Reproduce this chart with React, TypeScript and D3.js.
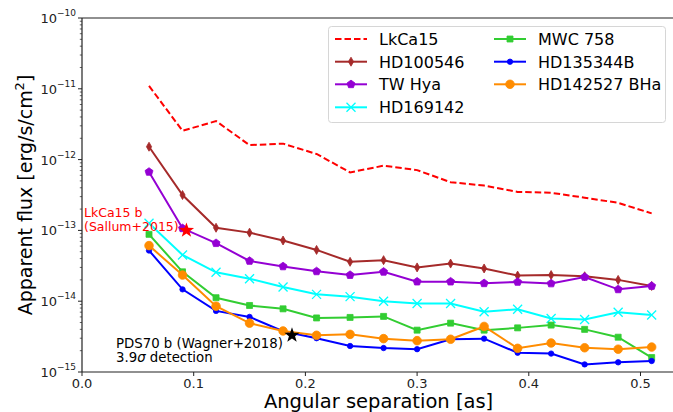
import * as d3 from "d3";
import { useEffect, useRef } from "react";

// angular separations [as] shared by every curve
const separations = [0.06, 0.09, 0.12, 0.15, 0.18, 0.21, 0.24, 0.27, 0.3, 0.33, 0.36, 0.39, 0.42, 0.45, 0.48, 0.51];

// apparent flux limits [erg/s/cm^2]
const lkca15 = [1.1e-11, 2.55e-12, 3.5e-12, 1.6e-12, 1.68e-12, 1.2e-12, 6.6e-13, 8.2e-13, 7.1e-13, 4.8e-13, 4.3e-13, 3.5e-13, 3.4e-13, 2.9e-13, 2.45e-13, 1.74e-13];
const hd100546 = [1.52e-12, 3.16e-13, 1.09e-13, 9.3e-14, 7.2e-14, 5.3e-14, 3.6e-14, 3.8e-14, 3.0e-14, 3.4e-14, 2.9e-14, 2.3e-14, 2.34e-14, 2.25e-14, 2.0e-14, 1.64e-14];
const twHya = [6.7e-13, 1.07e-13, 6.6e-14, 3.7e-14, 3.1e-14, 2.64e-14, 2.34e-14, 2.6e-14, 1.89e-14, 1.89e-14, 1.79e-14, 1.87e-14, 1.78e-14, 2.2e-14, 1.47e-14, 1.64e-14];
const hd169142 = [1.26e-13, 4.5e-14, 2.56e-14, 2.08e-14, 1.59e-14, 1.25e-14, 1.16e-14, 1.0e-14, 9.3e-15, 9.3e-15, 7.1e-15, 7.7e-15, 5.7e-15, 5.5e-15, 7.0e-15, 6.4e-15];
const mwc758 = [8.8e-14, 2.6e-14, 1.12e-14, 8.7e-15, 7.8e-15, 5.8e-15, 5.9e-15, 6.1e-15, 3.9e-15, 4.9e-15, 3.9e-15, 4.2e-15, 4.6e-15, 4.0e-15, 3.1e-15, 1.6e-15];
const hd135344b = [5.2e-14, 1.47e-14, 7.3e-15, 6.0e-15, 3.76e-15, 3.0e-15, 2.33e-15, 2.18e-15, 2.1e-15, 2.9e-15, 2.96e-15, 1.87e-15, 1.82e-15, 1.28e-15, 1.37e-15, 1.43e-15];
const hd142527 = [6.1e-14, 2.34e-14, 8.5e-15, 4.9e-15, 3.8e-15, 3.3e-15, 3.4e-15, 2.96e-15, 2.77e-15, 2.9e-15, 4.4e-15, 2.16e-15, 2.57e-15, 2.2e-15, 2.1e-15, 2.25e-15];

// detected companions
const lkca15b = { sep: 0.0935, flux: 1.0e-13 };
const pds70b = { sep: 0.188, flux: 3.3e-15 };

const xTicks = [0, 0.1, 0.2, 0.3, 0.4, 0.5];
const yExponents = [-10, -11, -12, -13, -14, -15];

type Marker = "none" | "thin_diamond" | "pentagon" | "x" | "square" | "dot" | "circle";

interface Series {
	name: string;
	values: number[];
	color: string;
	marker: Marker;
	dashed?: boolean;
}

const series: Series[] = [
	{ name: "LkCa15", values: lkca15, color: "#ff0000", marker: "none", dashed: true },
	{ name: "HD100546", values: hd100546, color: "#a52a2a", marker: "thin_diamond" },
	{ name: "TW Hya", values: twHya, color: "#9400d3", marker: "pentagon" },
	{ name: "HD169142", values: hd169142, color: "#00ffff", marker: "x" },
	{ name: "MWC 758", values: mwc758, color: "#32cd32", marker: "square" },
	{ name: "HD135344B", values: hd135344b, color: "#0000ff", marker: "dot" },
	{ name: "HD142527 BHa", values: hd142527, color: "#ff8c00", marker: "circle" },
];

const width = 673;
const height = 412;
const margin = { top: 18, right: -1, bottom: 40, left: 82 };
const font = "DejaVu Sans, sans-serif";

//returns a path string of a marker centred on 0,0
const markerPath = (m: Marker): string => {
	switch (m) {
		case "thin_diamond":
			return "M0,-4.5L2.6,0L0,4.5L-2.6,0Z";
		case "pentagon": {
			const pts = d3.range(5).map((i) => {
				const a = -Math.PI / 2 + (i * 2 * Math.PI) / 5;
				return [4.2 * Math.cos(a), 4.2 * Math.sin(a)];
			});
			return "M" + pts.map((p) => p.join(",")).join("L") + "Z";
		}
		case "x":
			return "M-4.5,-4.5L4.5,4.5M-4.5,4.5L4.5,-4.5";
		case "square":
			return "M-3,-3H3V3H-3Z";
		case "dot":
			return d3.symbol(d3.symbolCircle, Math.PI * 2.7 * 2.7)() || "";
		case "circle":
			return d3.symbol(d3.symbolCircle, Math.PI * 4.3 * 4.3)() || "";
		default:
			return "";
	}
};

const starPath = (r: number) => {
	const pts = d3.range(10).map((i) => {
		const a = -Math.PI / 2 + (i * Math.PI) / 5;
		const rr = i % 2 === 0 ? r : r * 0.4;
		return [rr * Math.cos(a), rr * Math.sin(a)];
	});
	return "M" + pts.map((p) => p.join(",")).join("L") + "Z";
};

const drawMarker = (
	g: d3.Selection<SVGGElement, unknown, null, undefined>,
	m: Marker,
	color: string,
	x: number,
	y: number
) => {
	if (m === "none") return;
	const p = g.append("path").attr("d", markerPath(m)).attr("transform", `translate(${x},${y})`);
	if (m === "x") {
		p.attr("fill", "none").attr("stroke", color).attr("stroke-width", 1.3);
	} else {
		p.attr("fill", color).attr("stroke", color).attr("stroke-width", 0.8);
	}
};

const App = () => {
	const svgRef = useRef<SVGSVGElement | null>(null);

	useEffect(() => {
		const svg = d3.select(svgRef.current);
		svg.selectAll("*").remove();

		const chartWidth = width - margin.left - margin.right;
		const chartHeight = height - margin.top - margin.bottom;

		const xScale = d3.scaleLinear().domain([0, 0.53]).range([margin.left, margin.left + chartWidth]);
		const yScale = d3.scaleLog().domain([1e-15, 1e-10]).range([margin.top + chartHeight, margin.top]);

		svg.append("rect").attr("width", width).attr("height", height).attr("fill", "white");

		// clip area for the data
		svg.append("clipPath")
			.attr("id", "plot-clip")
			.append("rect")
			.attr("x", margin.left)
			.attr("y", margin.top)
			.attr("width", chartWidth)
			.attr("height", chartHeight);

		const plot = svg.append("g").attr("clip-path", "url(#plot-clip)");

		const line = d3
			.line<number>()
			.x((_, i) => xScale(separations[i]))
			.y((d) => yScale(d));

		series.forEach((s) => {
			plot.append("path")
				.attr("d", line(s.values))
				.attr("fill", "none")
				.attr("stroke", s.color)
				.attr("stroke-width", 2)
				.attr("stroke-dasharray", s.dashed ? "6.5,3" : null);
			const mg = plot.append("g");
			s.values.forEach((v, i) => drawMarker(mg, s.marker, s.color, xScale(separations[i]), yScale(v)));
		});

		// companion stars
		plot.append("path")
			.attr("d", starPath(8))
			.attr("transform", `translate(${xScale(lkca15b.sep)},${yScale(lkca15b.flux)})`)
			.attr("fill", "#ff0000");
		plot.append("path")
			.attr("d", starPath(8))
			.attr("transform", `translate(${xScale(pds70b.sep)},${yScale(pds70b.flux)})`)
			.attr("fill", "black");

		// annotations
		const ann1 = svg.append("text").attr("font-family", font).attr("font-size", 12.5).attr("fill", "#ff0000");
		ann1.append("tspan").attr("x", 84).attr("y", 217).text("LkCa15 b");
		ann1.append("tspan").attr("x", 84).attr("y", 231).text("(Sallum+2015)");
		const ann2 = svg.append("text").attr("font-family", font).attr("font-size", 13.3).attr("fill", "black");
		ann2.append("tspan").attr("x", 116).attr("y", 348).text("PDS70 b (Wagner+2018)");
		const l2 = ann2.append("tspan").attr("x", 116).attr("y", 362);
		l2.append("tspan").text("3.9");
		l2.append("tspan").attr("font-style", "italic").text("σ");
		l2.append("tspan").text(" detection");

		// axes
		const axisColor = "#222";
		const yBottom = margin.top + chartHeight;
		svg.append("line")
			.attr("x1", margin.left).attr("x2", margin.left)
			.attr("y1", margin.top).attr("y2", yBottom)
			.attr("stroke", axisColor).attr("stroke-width", 1.2);
		svg.append("line")
			.attr("x1", margin.left).attr("x2", width + 2)
			.attr("y1", yBottom).attr("y2", yBottom)
			.attr("stroke", axisColor).attr("stroke-width", 1.2);
		svg.append("line")
			.attr("x1", margin.left).attr("x2", width + 2)
			.attr("y1", margin.top).attr("y2", margin.top)
			.attr("stroke", axisColor).attr("stroke-width", 1.2);

		xTicks.forEach((t) => {
			const x = xScale(t);
			svg.append("line").attr("x1", x).attr("x2", x).attr("y1", yBottom).attr("y2", yBottom + 4)
				.attr("stroke", axisColor).attr("stroke-width", 1);
			svg.append("text").attr("x", x).attr("y", yBottom + 15.5).attr("text-anchor", "middle")
				.attr("font-family", font).attr("font-size", 13).attr("fill", "#222").text(t.toFixed(1));
		});

		// minor log ticks
		yExponents.forEach((e) => {
			if (e === -10) return;
			d3.range(2, 10).forEach((k) => {
				const y = yScale(k * Math.pow(10, e));
				svg.append("line").attr("x1", margin.left - 2.2).attr("x2", margin.left).attr("y1", y).attr("y2", y)
					.attr("stroke", axisColor).attr("stroke-width", 0.7);
			});
		});

		yExponents.forEach((e) => {
			const y = yScale(Math.pow(10, e));
			svg.append("line").attr("x1", margin.left - 4).attr("x2", margin.left).attr("y1", y).attr("y2", y)
				.attr("stroke", axisColor).attr("stroke-width", 1);
			const t = svg.append("text").attr("x", margin.left - 6).attr("y", y + 5).attr("text-anchor", "end")
				.attr("font-family", font).attr("fill", "#222");
			t.append("tspan").attr("font-size", 13).text("10");
			t.append("tspan").attr("font-size", 9).attr("dy", -7).text("\u2212" + Math.abs(e));
		});

		// axis labels
		svg.append("text")
			.attr("x", xScale(0.2655)).attr("y", 408).attr("text-anchor", "middle")
			.attr("font-family", font).attr("font-size", 19.5).attr("fill", "black")
			.text("Angular separation [as]");
		const yl = svg.append("text")
			.attr("transform", `translate(32,${margin.top + chartHeight / 2}) rotate(-90)`)
			.attr("text-anchor", "middle")
			.attr("font-family", font).attr("font-size", 19).attr("fill", "black");
		yl.append("tspan").text("Apparent flux [erg/s/cm");
		yl.append("tspan").attr("font-size", 13).attr("dy", -8).text("2");
		yl.append("tspan").attr("dy", 8).text("]");

		// legend
		const legend = svg.append("g");
		legend.append("rect")
			.attr("x", 328.5).attr("y", 26.5).attr("width", 337).attr("height", 96)
			.attr("rx", 3).attr("fill", "white").attr("fill-opacity", 0.85)
			.attr("stroke", "#d6d6d6").attr("stroke-width", 1);
		const rowY = [39, 61.7, 84.3, 107.3];
		series.forEach((s, i) => {
			const col = i < 4 ? 0 : 1;
			const row = i < 4 ? i : i - 4;
			const x0 = col === 0 ? 335 : 494;
			const y = rowY[row];
			const lg = legend.append("g");
			lg.append("line").attr("x1", x0).attr("x2", x0 + 32).attr("y1", y).attr("y2", y)
				.attr("stroke", s.color).attr("stroke-width", 2)
				.attr("stroke-dasharray", s.dashed ? "6.5,3" : null);
			drawMarker(lg, s.marker, s.color, x0 + 16, y);
			lg.append("text").attr("x", x0 + 44).attr("y", y + 5.8)
				.attr("font-family", font).attr("font-size", 16).attr("fill", "black").text(s.name);
		});
	}, []);

	return (
		<svg
			ref={svgRef}
			width={width}
			height={height}
			style={{ position: "absolute", left: 0, top: 0 }}
		/>
	);
};

export default App;
